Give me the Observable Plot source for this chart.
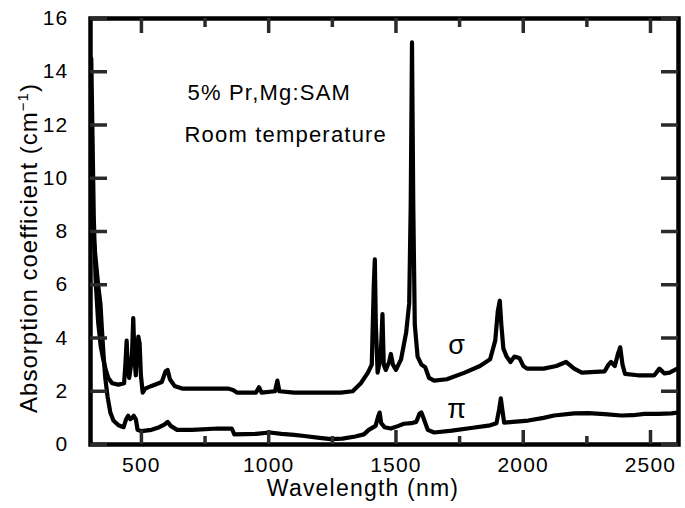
<!DOCTYPE html>
<html><head><meta charset="utf-8">
<script src="https://cdn.jsdelivr.net/npm/d3@7"></script>
<script src="https://cdn.jsdelivr.net/npm/@observablehq/plot@0.6"></script>
<style>
body{margin:0;background:#fff;}
#chart{width:685px;height:508px;}
#chart svg text{font-family:"Liberation Sans",Arial,Helvetica,sans-serif;fill:#000;}
#chart svg .lbl text{letter-spacing:1.2px;}
</style></head><body><div id="chart"></div>
<script>
// sigma polarization
const sigmaWavelength = [303,308,313,320,330,340,350,360,370,385,410,432,437,442,447,452,458,463,468,473,478,483,488,493,498,505,515,540,580,595,603,612,630,660,750,840,860,875,950,962,972,1025,1034,1042,1100,1200,1283,1330,1362,1390,1405,1413,1417,1421,1428,1440,1447,1452,1460,1473,1480,1488,1500,1520,1540,1552,1558,1563,1568,1574,1585,1600,1615,1630,1650,1700,1770,1830,1870,1890,1900,1908,1914,1922,1935,1950,1965,1985,2000,2015,2080,2130,2168,2200,2230,2320,2335,2345,2360,2372,2381,2390,2400,2450,2515,2535,2555,2575,2605];
const sigmaValue = [14.5,11.5,8.5,6.2,4.6,3.7,3.2,2.8,2.5,2.3,2.25,2.3,3.0,3.9,2.8,2.5,2.9,3.4,4.75,3.2,2.6,3.5,4.05,3.8,2.6,1.95,2.1,2.2,2.35,2.75,2.8,2.45,2.2,2.1,2.1,2.1,2.05,1.95,1.95,2.15,1.95,2.0,2.4,2.0,1.95,1.95,1.95,2.0,2.3,2.7,3.0,6.0,6.95,4.5,2.7,3.3,4.9,3.0,2.8,3.1,3.4,3.0,2.8,3.2,4.2,5.3,9.0,15.1,9.0,4.5,3.3,3.0,2.9,2.5,2.4,2.45,2.7,2.95,3.2,3.9,5.0,5.4,4.5,3.6,3.3,3.1,3.3,3.25,2.95,2.85,2.85,2.95,3.1,2.85,2.7,2.75,3.0,3.1,2.95,3.4,3.65,3.0,2.65,2.6,2.6,2.85,2.67,2.7,2.85];
// pi polarization
const piWavelength = [300,305,312,320,330,339,345,351,358,367,378,390,410,430,440,448,456,463,470,478,485,500,540,570,590,603,615,640,700,800,855,865,950,1005,1050,1100,1140,1200,1244,1290,1340,1374,1393,1420,1430,1436,1442,1455,1480,1510,1531,1560,1580,1592,1600,1610,1625,1650,1720,1795,1870,1895,1905,1912,1918,1925,1960,2020,2080,2121,2200,2255,2320,2385,2430,2476,2530,2582,2605];
const piValue = [8.8,8.4,7.8,7.0,6.0,5.3,4.3,3.4,2.5,1.8,1.2,0.9,0.72,0.65,0.95,1.08,0.95,1.0,1.08,0.95,0.55,0.5,0.55,0.65,0.75,0.85,0.7,0.55,0.55,0.6,0.6,0.38,0.4,0.45,0.4,0.36,0.32,0.25,0.2,0.22,0.3,0.38,0.55,0.7,1.05,1.2,0.8,0.65,0.6,0.7,0.78,0.8,0.85,1.15,1.2,0.95,0.55,0.45,0.52,0.62,0.72,0.8,1.3,1.73,1.3,0.82,0.85,0.9,1.0,1.09,1.17,1.18,1.14,1.09,1.1,1.15,1.15,1.17,1.2];

const xMajorTicks = [500,1000,1500,2000,2500];
const xMinorTicks = [750,1250,1750,2250];
const yTicks = [0,2,4,6,8,10,12,14,16];
const xTitle = "Wavelength (nm)";
const yTitle = "Absorption coefficient (cm";
const yTitleSup = "−1";
const annotations = [
  {text:"5% Pr,Mg:SAM", x:681, y:13.2},
  {text:"Room temperature", x:669, y:11.62}
];
const seriesLabels = [
  {text:"σ", x:1738, y:3.72},
  {text:"π", x:1738, y:1.31}
];

const sigma = sigmaWavelength.map((w,i)=>({w, v:sigmaValue[i]}));
const pi = piWavelength.map((w,i)=>({w, v:piValue[i]}));

const W=685, H=508, mL=90, mR=7, mT=18, mB=64;
const fw = W-mL-mR, fh = H-mT-mB;
const fmt = d3.format("d");
const tickColor = "#2a2a2a";

const plot = Plot.plot({
  width:W, height:H,
  marginLeft:mL, marginRight:mR, marginTop:mT, marginBottom:mB,
  x:{domain:[300,2610], label:null},
  y:{domain:[0,16], label:null},
  style:{background:"#fff", overflow:"visible"},
  marks:[
    Plot.line(sigma,{x:"w", y:"v", stroke:"#000", strokeWidth:4.2, strokeLinejoin:"round", clip:true}),
    Plot.line(pi,{x:"w", y:"v", stroke:"#000", strokeWidth:4.2, strokeLinejoin:"round", clip:true}),
    Plot.frame({stroke:"#000", strokeWidth:4.5}),
    // inward ticks on all four sides
    Plot.ruleX(xMajorTicks,{x:d=>d, insetTop:fh-14, stroke:tickColor, strokeWidth:3.5}),
    Plot.ruleX(xMajorTicks,{x:d=>d, insetBottom:fh-15, stroke:tickColor, strokeWidth:3.5}),
    Plot.ruleX(xMinorTicks,{x:d=>d, insetTop:fh-8, stroke:tickColor, strokeWidth:3.5}),
    Plot.ruleX(xMinorTicks,{x:d=>d, insetBottom:fh-9, stroke:tickColor, strokeWidth:3.5}),
    Plot.ruleY(yTicks,{y:d=>d, insetRight:fw-17, stroke:tickColor, strokeWidth:3.5}),
    Plot.ruleY(yTicks,{y:d=>d, insetLeft:fw-17, stroke:tickColor, strokeWidth:3.5}),
    Plot.axisX({ticks:xMajorTicks, tickSize:0, tickPadding:13, fontSize:21, tickFormat:fmt, className:"lbl", label:null}),
    Plot.axisY({ticks:yTicks, tickSize:0, tickPadding:22, fontSize:21, tickFormat:fmt, className:"lbl", label:null}),
    Plot.text(annotations,{x:"x", y:"y", text:"text", textAnchor:"start", fontSize:22, className:"lbl"}),
    Plot.text(seriesLabels,{x:"x", y:"y", text:"text", fontSize:27, fontFamily:"Liberation Serif, Times New Roman, serif"})
  ]
});
document.getElementById("chart").appendChild(plot);

const svg = d3.select(plot);
svg.append("text")
  .attr("x", 363).attr("y", 496)
  .attr("text-anchor","middle")
  .attr("font-size", 23)
  .style("letter-spacing","1.2px")
  .text(xTitle);
const yt = svg.append("text")
  .attr("transform","translate(37,248) rotate(-90)")
  .attr("text-anchor","middle")
  .attr("font-size", 24)
  .style("letter-spacing","1px");
yt.append("tspan").text(yTitle);
yt.append("tspan").attr("font-size",15).attr("dy",-9).text(yTitleSup);
yt.append("tspan").attr("dy",9).text(")");
</script></body></html>
